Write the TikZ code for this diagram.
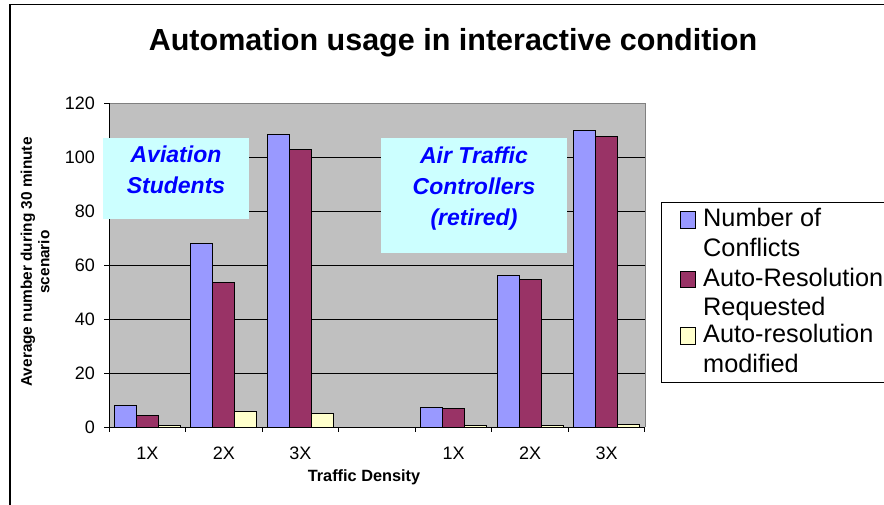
\documentclass[tikz,border=0pt]{standalone}
\usepackage{fontspec}
\setmainfont{Liberation Sans}

\definecolor{plotgray}{HTML}{C0C0C0}
\definecolor{framegray}{HTML}{808080}
\definecolor{conflictblue}{HTML}{9999FF}
\definecolor{requestred}{HTML}{993366}
\definecolor{modifyyellow}{HTML}{FFFFCC}
\definecolor{noteback}{HTML}{CCFFFF}
\definecolor{noteblue}{HTML}{0000FF}

\newcommand{\fsz}[2]{\fontsize{#1}{#2}\selectfont}

\begin{document}
\begin{tikzpicture}[x=1pt, y=-1pt, every node/.style={inner sep=0pt},
		ticklabel/.style={font=\fsz{18}{21}},
		bar/.style={draw=black, line width=0.9pt},
		notebox/.style={fill=noteback, anchor=north west},
		notetext/.style={font=\bfseries\itshape\fsz{23}{30.7}, text=noteblue, align=center, anchor=north},
		legtext/.style={font=\fsz{25.3}{29.3}, anchor=base west}]
		\useasboundingbox (0,0) rectangle (884,504);
		\clip (0,0) rectangle (884,504);
		% outer frame, cut by the page
		\draw[line width=1.2pt] (10,4.5) rectangle (920,540);
		\node[font=\bfseries\fsz{30.5}{36}, anchor=base] (title) at (453,50) {Automation usage in interactive condition};

		% plot area and grid
		\fill[plotgray] (109,103) rectangle (645,427);
		\draw[framegray, line width=1pt] (109,103) -- (645,103) -- (645,427);
		\foreach \t in {20,40,...,100}
			\draw[line width=0.8pt] (109,{427-2.7*\t}) -- (645,{427-2.7*\t});

		% bars: category / conflicts / requested / modified
		\foreach \c/\a/\b/\m in {0/7.8/4.4/0.5, 1/68/53.6/5.9, 2/108.3/102.8/4.9,
				4/7.3/6.8/0.4, 5/56/54.6/0.4, 6/110/107.7/1.1}{
			\pgfmathsetmacro\xl{109+76.57*\c+5.3}
			\draw[bar, fill=conflictblue] (\xl,427) rectangle ++(22,{-2.7*\a});
			\draw[bar, fill=requestred] (\xl+22,427) rectangle ++(22,{-2.7*\b});
			\draw[bar, fill=modifyyellow] (\xl+44,427) rectangle ++(22,{-2.7*\m});
		}

		% axes, ticks and labels
		\draw[line width=1pt] (109,103) -- (109,427) -- (645,427);
		\foreach \t in {0,20,...,120}{
			\draw[line width=1pt] (104,{427-2.7*\t}) -- (109,{427-2.7*\t});
			\node[ticklabel, anchor=east] (ytick\t) at (95,{427-2.7*\t}) {\t};
		}
		\foreach \k in {0,...,7}
			\draw[line width=1pt] ({109+76.57*\k},427) -- ++(0,5);
		\foreach \lab [count=\i from 0] in {1X,2X,3X,,1X,2X,3X}
			\node[ticklabel, anchor=base] (xcat\i) at ({109+76.57*(\i+0.5)},459) {\lab};
		\node[font=\bfseries\fsz{16.3}{19}, anchor=base] (xlab) at (364,481) {Traffic Density};
		\node[font=\bfseries\fsz{15.4}{17.5}, rotate=90, align=center] (ylab) at (35,262)
			{Average number during 30 minute\\scenario};

		% group notes
		\node[notebox, minimum width=146, minimum height=81] (stubox) at (103,138) {};
		\node[notetext] (stutext) at (176,146) {Aviation\\Students};
		\node[notebox, minimum width=186, minimum height=115] (atcbox) at (381,138) {};
		\node[notetext] (atctext) at (474,147) {Air Traffic\\Controllers\\(retired)};

		% legend
		\draw[line width=1pt] (661,202) rectangle (920,382.7);
		\foreach \b/\col/\ta/\tb [count=\i] in {226.7/conflictblue/Number of/Conflicts,
				286/requestred/Auto-Resolution/Requested,
				342.7/modifyyellow/Auto-resolution/modified}{
			\draw[line width=0.9pt, fill=\col] (680,\b-15) rectangle (695.5,\b+1.3);
			\node[legtext] (leg\i a) at (703,\b) {\ta};
			\node[legtext] (leg\i b) at (703,\b+29.3) {\tb};
		}
	\end{tikzpicture}
\end{document}
